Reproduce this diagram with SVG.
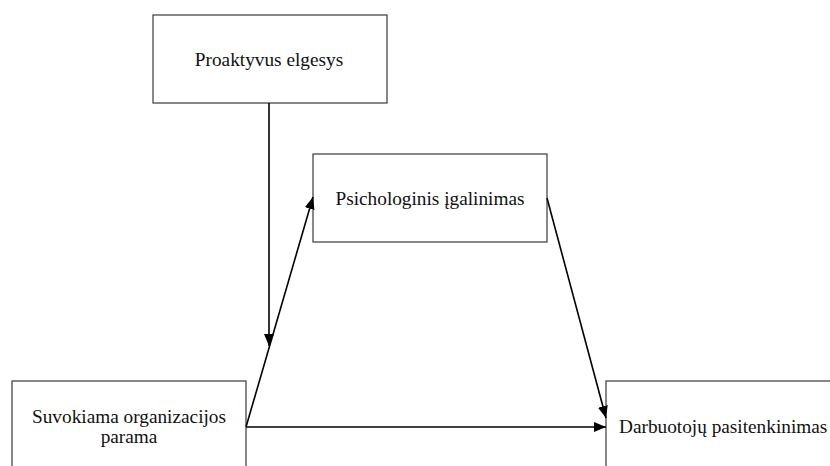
<svg xmlns="http://www.w3.org/2000/svg" width="830" height="466" viewBox="0 0 830 466">
<style>
.box{fill:#fff;stroke:#3a3a3a;stroke-width:1.2}
.t{font-family:"Liberation Serif","Times New Roman",serif;font-size:19.3px;fill:#111}
.c{stroke:#000;stroke-width:1.6;fill:none;marker-end:url(#ah)}
</style>
<defs>
<marker id="ah" viewBox="0 0 12 10" refX="12" refY="5" markerWidth="12" markerHeight="10" markerUnits="userSpaceOnUse" orient="auto">
<path d="M0,0 L12,5 L0,10 Z" fill="#000"/>
</marker>
</defs>
<rect width="830" height="466" fill="#fff"/>
<g id="n1"><rect class="box" x="153" y="15" width="234" height="88"/><text class="t" x="269" y="66" text-anchor="middle">Proaktyvus elgesys</text></g>
<g id="n2"><rect class="box" x="313" y="154" width="234" height="88"/><text class="t" x="430" y="205" text-anchor="middle">Psichologinis įgalinimas</text></g>
<g id="n3"><rect class="box" x="12" y="381" width="234" height="100"/><text class="t" x="129" y="423" text-anchor="middle">Suvokiama organizacijos</text><text class="t" x="129" y="443" text-anchor="middle">parama</text></g>
<g id="n4"><rect class="box" x="606" y="381" width="240" height="100"/><text class="t" x="619" y="433">Darbuotojų pasitenkinimas</text></g>
<g id="connectors">
<line class="c" x1="269" y1="103" x2="269" y2="346"/>
<line class="c" x1="246" y1="427" x2="313" y2="197"/>
<line class="c" x1="246" y1="427" x2="606" y2="427"/>
<line class="c" x1="547" y1="198" x2="606" y2="418"/>
</g>
</svg>
